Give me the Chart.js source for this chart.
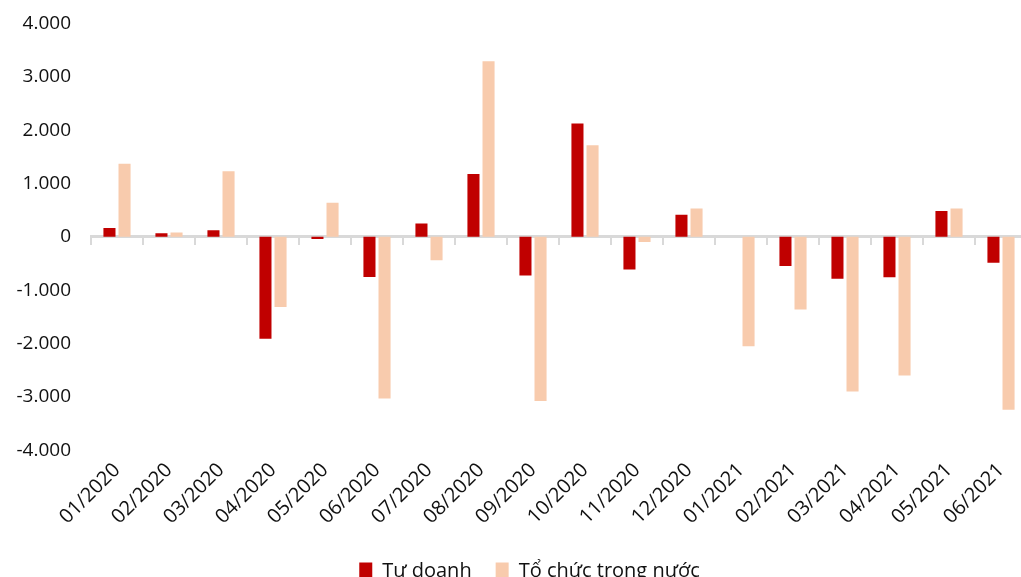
<!DOCTYPE html>
<html>
<head>
<meta charset="utf-8">
<script src="https://cdn.jsdelivr.net/npm/chart.js@4"></script>
<style>
    html, body { margin: 0; padding: 0; background: #fff; overflow: hidden; }
    #wrap { width: 1027px; height: 577px; }
</style>
</head>
<body>
<div id="wrap"><canvas id="flowChart"></canvas></div>
<script>
const months = ['01/2020', '02/2020', '03/2020', '04/2020', '05/2020', '06/2020', '07/2020', '08/2020', '09/2020',
    '10/2020', '11/2020', '12/2020', '01/2021', '02/2021', '03/2021', '04/2021', '05/2021', '06/2021'];
const tuDoanh = [165, 70, 125, -1910, -40, -750, 250, 1180, -725, 2125, -610, 415, 0, -545, -785, -755, 485, -485];
const toChucTrongNuoc = [1370, 80, 1230, -1315, 640, -3030, -440, 3290, -3075, 1715, -95, 530, -2050, -1360, -2900, -2600, 530, -3240];
const yTicks = [-4000, -3000, -2000, -1000, 0, 1000, 2000, 3000, 4000];

const fontFamily = "'Open Sans', 'Noto Sans', sans-serif";
const textColor = '#111111';
const axisGray = '#d9d9d9';

function formatNumber(value) {
    // dot as thousands separator, like the source
    const sign = value < 0 ? '-' : '';
    return sign + Math.abs(value).toString().replace(/\B(?=(\d{3})+(?!\d))/g, '.');
}

// the source legend sits a bit right of centre and low on the page
const legendShift = {
    id: 'legendShift',
    afterLayout(chart) {
        const lg = chart.legend;
        lg.left += 16;
        lg.right += 16;
        lg.top += 8;
        lg.bottom += 8;
    }
};

new Chart(document.getElementById('flowChart'), {
    type: 'bar',
    data: {
        labels: months,
        datasets: [{
            label: 'Tư doanh',
            data: tuDoanh,
            backgroundColor: '#C00000',
            xAxisID: 'x'
        }, {
            label: 'Tổ chức trong nước',
            data: toChucTrongNuoc,
            backgroundColor: '#F8CBAD',
            xAxisID: 'x'
        }]
    },
    options: {
        responsive: true,
        maintainAspectRatio: false,
        animation: false,
        categoryPercentage: 0.58,
        barPercentage: 0.8,
        layout: {
            padding: { top: 3, right: 0, left: 0, bottom: -6 }
        },
        plugins: {
            legend: {
                position: 'bottom',
                labels: {
                    font: { family: fontFamily, size: 20 },
                    color: textColor,
                    boxWidth: 13,
                    boxHeight: 17,
                    padding: 24
                }
            },
            tooltip: { enabled: false }
        },
        scales: {
            x: {
                position: 'bottom',
                grid: { display: false },
                border: { display: false },
                ticks: {
                    font: { family: fontFamily, size: 20 },
                    color: textColor,
                    minRotation: 45,
                    maxRotation: 45,
                    autoSkip: false,
                    padding: 0
                }
            },
            zeroAxis: {
                type: 'category',
                axis: 'x',
                labels: months,
                position: { y: 0 },
                offset: true,
                grid: {
                    offset: true,
                    drawOnChartArea: false,
                    drawTicks: true,
                    tickLength: 7,
                    color: axisGray,
                    lineWidth: 2
                },
                border: { display: true, color: axisGray, width: 3 },
                ticks: { display: false }
            },
            y: {
                min: -4000,
                max: 4000,
                grid: { display: false },
                border: { display: false },
                afterBuildTicks: axis => {
                    axis.ticks = yTicks.map(v => ({ value: v }));
                },
                afterFit: axis => {
                    axis.width = 91;
                },
                ticks: {
                    font: { family: fontFamily, size: 19 },
                    color: textColor,
                    padding: 12,
                    callback: value => formatNumber(value)
                }
            }
        }
    },
    plugins: [legendShift]
});
</script>
</body>
</html>
